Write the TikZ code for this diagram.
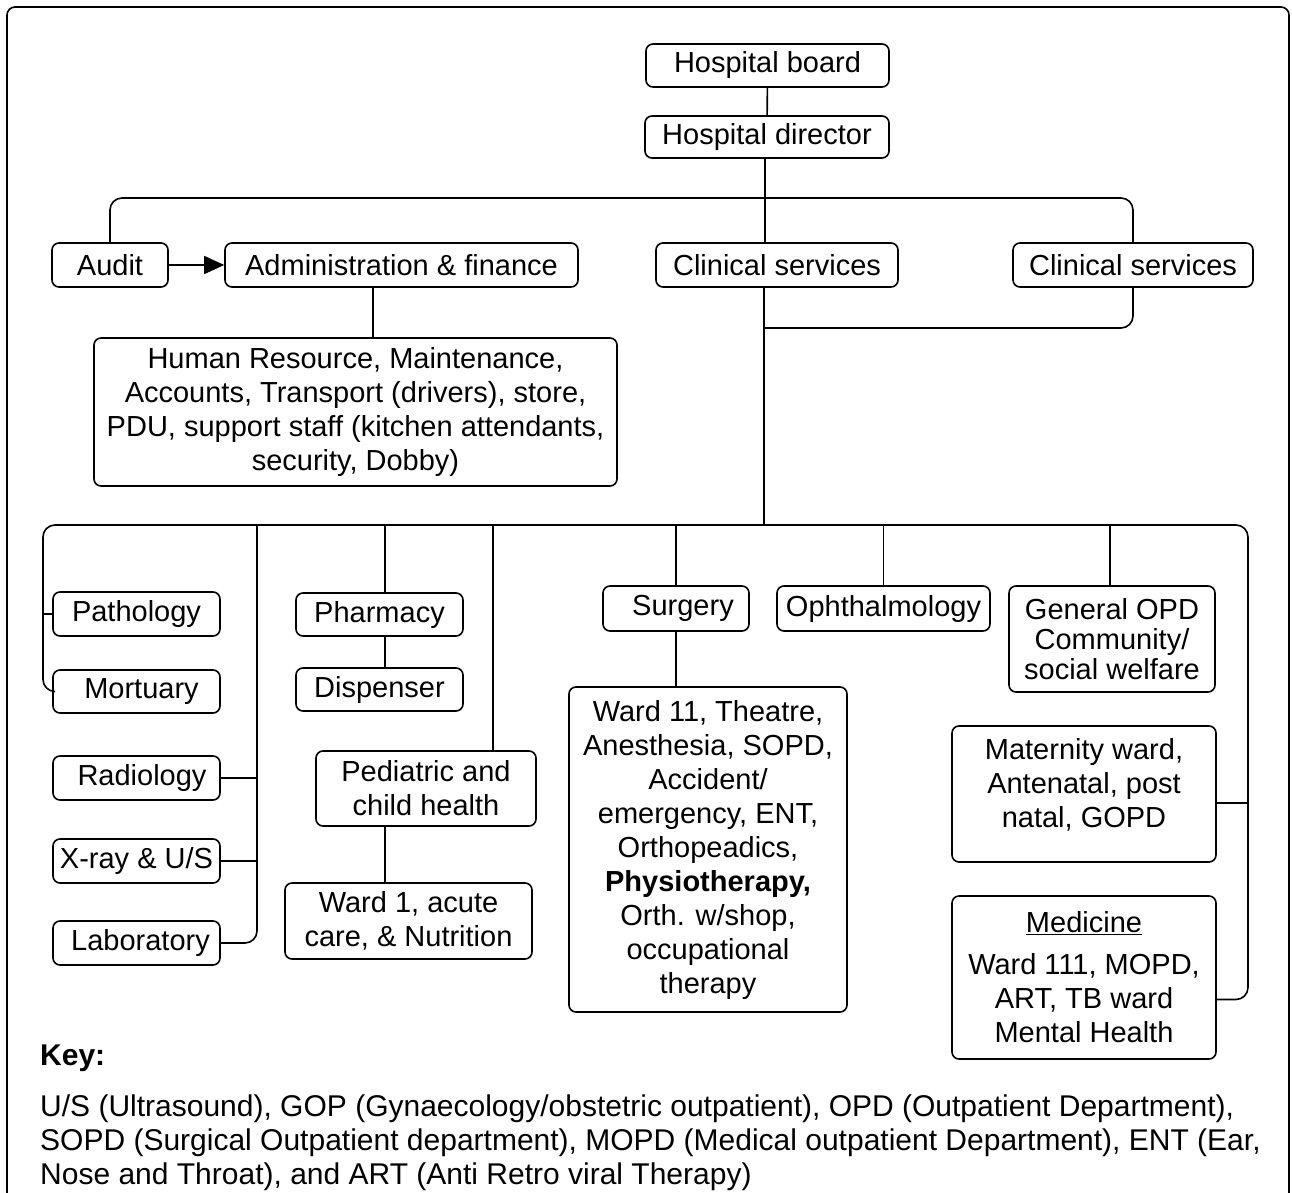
\documentclass[tikz,border=0pt]{standalone}
\usepackage{fontspec}
\setmainfont{Liberation Sans}
\usetikzlibrary{arrows.meta,calc}
\begin{document}
\begin{tikzpicture}[x=1pt,y=-1pt,
  every node/.style={font=\fontsize{29}{34}\selectfont},
  box/.style={draw, line width=1.6pt, rounded corners=7pt, inner sep=0pt, align=center},
  conn/.style={line width=1.6pt},
  rc/.style={conn, rounded corners=12pt}]
\useasboundingbox (0,0) rectangle (1292,1193);
\begin{scope}
\clip (0,0) rectangle (1292,1193);
\draw[line width=1.6pt, rounded corners=8pt] (7,1220) -- (7,7) -- (1289,7) -- (1289,1220);
\end{scope}

% top
\node[box, minimum width=243, minimum height=43] (board) at (767.5,65.5) {Hospital board};
\node[box, minimum width=244, minimum height=42] (director) at (767,137) {Hospital director};
\node[box, minimum width=116, minimum height=44] (audit) at (110,265) {Audit};
\node[box, minimum width=353, minimum height=44] (admin) at (401.5,265) {Administration \& finance};
\node[box, minimum width=242, minimum height=44] (clin1) at (777,265) {Clinical services};
\node[box, minimum width=240, minimum height=44] (clin2) at (1133,265) {Clinical services};
\node[box, minimum width=523, minimum height=148] (hr) at (355.5,412) {Human Resource, Maintenance,\\Accounts, Transport (drivers), store,\\PDU, support staff (kitchen attendants,\\security, Dobby)};

% left column
\node[box, minimum width=167, minimum height=44] (patho) at (136.5,614) {Pathology};
\node[box, minimum width=167, minimum height=43] (mort) at (136.5,691.5) {\hspace{10pt}Mortuary};
\node[box, minimum width=167, minimum height=44] (radio) at (136.5,778) {\hspace{11pt}Radiology};
\node[box, minimum width=167, minimum height=44] (xray) at (136.5,861) {X-ray \& U/S};
\node[box, minimum width=167, minimum height=44] (lab) at (136.5,943) {\hspace{8pt}Laboratory};

% pharmacy / pediatrics
\node[box, minimum width=167, minimum height=43] (pharm) at (379.5,614.5) {Pharmacy};
\node[box, minimum width=167, minimum height=43] (disp) at (379.5,689.5) {Dispenser};
\node[box, minimum width=220, minimum height=75] (pedia) at (426,788.5) {Pediatric and\\child health};
\node[box, minimum width=247, minimum height=76] (ward1) at (408.5,921) {Ward 1, acute\\care, \& Nutrition};

% surgery / ophthalmology
\node[box, minimum width=146, minimum height=45] (surg) at (676,608.5) {\hspace{14pt}Surgery};
\node[box, minimum width=213, minimum height=45] (ophth) at (883.5,608.5) {Ophthalmology};
\node[box, minimum width=278, minimum height=325] (surgward) at (708,849.5) {Ward 11, Theatre,\\Anesthesia, SOPD,\\Accident/\\emergency, ENT,\\Orthopeadics,\\\textbf{Physiotherapy,}\\Orth. w/shop,\\occupational\\therapy};

% right column
\node[box, minimum width=206, minimum height=106, font=\fontsize{29}{30}\selectfont] (gopd) at (1112,639) {General OPD\\Community/\\social welfare};
\node[box, minimum width=264, minimum height=136] (mat) at (1084,794) {};
\node[align=center, inner sep=0pt] (matT) at (1084,785) {Maternity ward,\\Antenatal, post\\natal, GOPD};
\node[box, minimum width=264, minimum height=163] (med) at (1084,977.5) {\underline{Medicine}\\[8pt]Ward 111, MOPD,\\ART, TB ward\\Mental Health};

% key
\node[anchor=west, inner sep=0pt, font=\fontsize{30}{34}\selectfont] (key) at (40,1058) {\bfseries Key:};
\node[anchor=north west, align=left, inner sep=0pt, font=\fontsize{30}{34}\selectfont] (keytext) at (40,1095) {U/S (Ultrasound), GOP (Gynaecology/obstetric outpatient), OPD (Outpatient Department),\\SOPD (Surgical Outpatient department), MOPD (Medical outpatient Department), ENT (Ear,\\Nose and Throat), and ART (Anti Retro viral Therapy)};

% coordinates
\coordinate (tb) at (765,198);
\coordinate (jn) at (764,328);
\coordinate (trunk) at (764,525);
\coordinate (busL) at (43,525);
\coordinate (busR) at (1248,525);
\coordinate (c2) at (257,525);
\coordinate (c3) at (385,525);
\coordinate (pedx) at (493,525);
\coordinate (adx) at (373,0);

% connectors
\draw[conn] (board) -- (director);
\draw[conn] (tb |- director.south) -- (tb |- clin1.north);
\draw[rc] (audit.north) |- (tb) -| (clin2.north);
\draw[conn, -{Triangle[length=20pt, width=18pt]}] (audit.east) -- (admin.west);
\draw[conn] (adx |- admin.south) -- (adx |- hr.north);
\draw[conn] (jn |- clin1.south) -- (trunk);
\draw[rc] (clin2.south) |- (jn);

\draw[rc] (mort.west) -| (busL) -- (busR) |- ($(med.east)+(0,22)$);
\draw[conn] (patho.west) -- (patho.west -| busL);
\draw[rc] (lab.east) -| (c2);
\draw[conn] (radio.east) -- (radio.east -| c2);
\draw[conn] (xray.east) -- (xray.east -| c2);

\draw[conn] (c3) -- (c3 |- pharm.north);
\draw[conn] (c3 |- pharm.south) -- (c3 |- disp.north);
\draw[conn] (pedx) -- (pedx |- pedia.north);
\draw[conn] (c3 |- pedia.south) -- (c3 |- ward1.north);

\draw[conn] (surg.north |- busL) -- (surg.north);
\draw[conn] (surg.south) -- (surg.south |- surgward.north);
\draw[conn] (ophth.north |- busL) -- (ophth.north);
\draw[conn] ($(gopd.north |- busL)+(-2,0)$) -- ($(gopd.north)+(-2,0)$);
\draw[conn] ($(mat.east)+(0,9)$) -- ($(mat.east -| busR)+(0,9)$);
\end{tikzpicture}
\end{document}
